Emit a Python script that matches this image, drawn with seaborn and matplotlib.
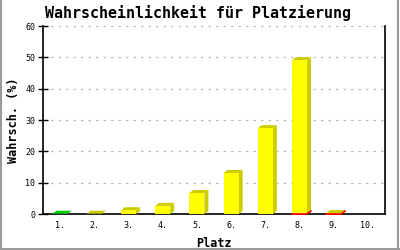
import matplotlib
matplotlib.use("Agg")
import matplotlib.pyplot as plt
from matplotlib.patches import Polygon
from matplotlib.lines import Line2D
import seaborn as sns
import pandas as pd

places = ["1.", "2.", "3.", "4.", "5.", "6.", "7.", "8.", "9.", "10."]
probs = [0.1, 0.1, 1.2, 2.6, 6.7, 13.1, 27.4, 49.1, 0.3, 0.0]
front_colors = ["#00E000", "#FFFF00", "#FFFF00", "#FFFF00", "#FFFF00",
                "#FFFF00", "#FFFF00", "#FFFF00", "#FFFF00", "#FFFF00"]
depth_colors = ["#00CC00", "#CCCC00", "#CCCC00", "#CCCC00", "#CCCC00",
                "#CCCC00", "#CCCC00", "#CCCC00", "#CCCC00", "#CCCC00"]
red_base = [False, False, False, False, False, False, False, True, True, False]
y_ticks = [0, 10, 20, 30, 40, 50, 60]

sns.set_style("white")
plt.rcParams["font.family"] = ["DejaVu Sans Mono"]
plt.rcParams["text.color"] = "black"
plt.rcParams["axes.labelcolor"] = "black"
plt.rcParams["xtick.color"] = "black"
plt.rcParams["ytick.color"] = "black"

df = pd.DataFrame({"Platz": places, "p": probs})

fig = plt.figure(figsize=(4, 2.5), dpi=100)
ax = fig.add_axes([0.1075, 0.144, 0.855, 0.752])
sns.barplot(data=df, x="Platz", y="p", hue="Platz", palette=front_colors,
            legend=False, width=0.44, ax=ax, linewidth=0, saturation=1, zorder=3)
ax.set_xlim(-0.5, 9.5)
ax.set_ylim(0, 60)
ax.set_yticks(y_ticks)

# depth offsets in data units (4px right, 3px up)
inv = ax.transData.inverted()
o0 = inv.transform((0, 0))
o1 = inv.transform((4, 3))
ddx, ddy = o1[0] - o0[0], o1[1] - o0[1]

for i, patch in enumerate(ax.patches[:len(probs)]):
    h = patch.get_height()
    if h <= 0:
        continue
    x0 = patch.get_x()
    x1 = x0 + patch.get_width()
    y0 = patch.get_y()
    y1 = y0 + h
    side = Polygon([(x1, y0), (x1 + ddx, y0 + ddy), (x1 + ddx, y1 + ddy), (x1, y1)],
                   closed=True, facecolor=depth_colors[i], edgecolor="none", zorder=2.9)
    top = Polygon([(x0, y1), (x0 + ddx, y1 + ddy), (x1 + ddx, y1 + ddy), (x1, y1)],
                  closed=True, facecolor=depth_colors[i], edgecolor="none", zorder=2.9)
    ax.add_patch(side)
    ax.add_patch(top)
    if red_base[i]:
        ax.add_line(Line2D([x0, x1, x1 + ddx], [y0, y0, y0 + ddy], color="#FF0000",
                           linewidth=1.2, zorder=3.5, clip_on=False))

ax.yaxis.grid(True, linestyle=(0, (2, 4)), color="#BBBBBB", linewidth=0.9)
ax.xaxis.grid(False)
ax.set_axisbelow(True)

for s in ["left", "bottom", "right"]:
    ax.spines[s].set_visible(True)
    ax.spines[s].set_color("black")
    ax.spines[s].set_linewidth(1.2)
ax.spines["top"].set_visible(False)

ax.tick_params(axis="y", direction="inout", length=7, width=1, labelsize=6, pad=2, left=True)
ax.tick_params(axis="x", length=0, labelsize=6, pad=5)

ax.set_xlabel("Platz", fontsize=8.5, fontweight="bold", labelpad=5)
ax.set_ylabel("Wahrsch. (%)", fontsize=8.5, fontweight="bold", labelpad=4)
fig.text(0.495, 0.948, "Wahrscheinlichkeit für Platzierung", ha="center", va="center",
         fontsize=10.8, fontweight="semibold")

# figure border (left, right, bottom)
border = "#999999"
fig.add_artist(Line2D([0.002, 0.002], [0, 1], transform=fig.transFigure, color=border, linewidth=1.5))
fig.add_artist(Line2D([0.996, 0.996], [0, 1], transform=fig.transFigure, color=border, linewidth=1.5))
fig.add_artist(Line2D([0, 1], [0.006, 0.006], transform=fig.transFigure, color=border, linewidth=1.5))

fig.savefig("out.png", dpi=100)
